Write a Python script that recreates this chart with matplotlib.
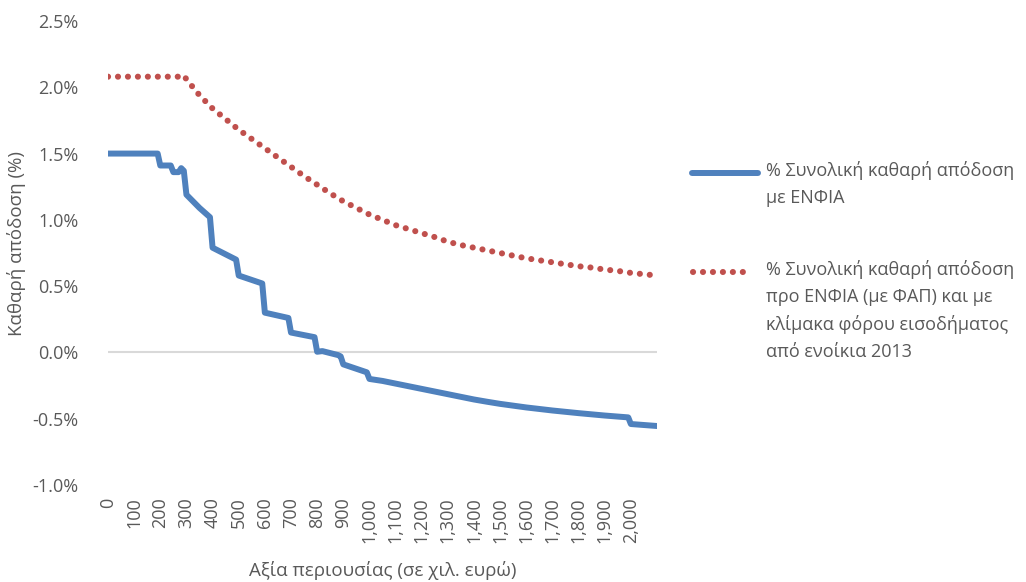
import matplotlib
matplotlib.use("Agg")
import matplotlib.pyplot as plt
from matplotlib.lines import Line2D
from matplotlib.ticker import FuncFormatter, MultipleLocator

# Asset value (thousand euro) and net yield (%)
blue_x = [0, 190, 200, 240, 250, 270, 280, 290, 300, 350, 390, 400, 490, 500,
          590, 600, 690, 700, 790, 800, 820, 840, 880, 890, 900, 990, 1000,
          1050, 1100, 1150, 1200, 1250, 1300, 1350, 1400, 1450, 1500, 1600,
          1700, 1800, 1900, 1990, 2000, 2100]
blue_y = [1.50, 1.50, 1.41, 1.41, 1.36, 1.36, 1.39, 1.37, 1.19, 1.09, 1.02,
          0.79, 0.70, 0.58, 0.52, 0.30, 0.26, 0.15, 0.115, 0.005, 0.01, 0.0,
          -0.02, -0.03, -0.09, -0.15, -0.20, -0.215, -0.235, -0.255, -0.275,
          -0.295, -0.315, -0.335, -0.355, -0.372, -0.388, -0.415, -0.438,
          -0.458, -0.476, -0.49, -0.54, -0.555]

red_x = [0, 100, 200, 280, 290, 300, 350, 400, 450, 500, 550, 600, 650, 700,
         750, 800, 850, 900, 950, 1000, 1050, 1100, 1150, 1200, 1250, 1300,
         1350, 1400, 1450, 1500, 1550, 1600, 1650, 1700, 1750, 1800, 1850,
         1900, 1950, 2000, 2050, 2100]
red_y = [2.08, 2.08, 2.08, 2.08, 2.09, 2.06, 1.94, 1.84, 1.76, 1.68, 1.61,
         1.54, 1.47, 1.40, 1.33, 1.265, 1.20, 1.14, 1.09, 1.04, 1.00, 0.96,
         0.93, 0.90, 0.87, 0.835, 0.81, 0.79, 0.77, 0.75, 0.73, 0.71, 0.695,
         0.68, 0.665, 0.65, 0.64, 0.625, 0.615, 0.60, 0.59, 0.58]

blue_label = "% Συνολική καθαρή απόδοση\nμε ΕΝΦΙΑ"
red_label = ("% Συνολική καθαρή απόδοση\nπρο ΕΝΦΙΑ (με ΦΑΠ) και με\n"
             "κλίμακα φόρου εισοδήματος\nαπό ενοίκια 2013")

BLUE = "#4F81BD"
RED = "#C0504D"
GREY = "#595959"

plt.rcParams["font.family"] = ["Open Sans", "DejaVu Sans"]
plt.rcParams["font.size"] = 13

fig = plt.figure(figsize=(10.26, 5.82), dpi=100)
ax = fig.add_axes([108 / 1026, 97 / 582, 549 / 1026, 464 / 582])

ax.axhline(0, color="#d9d9d9", lw=1.5, zorder=1)
ax.plot(blue_x, blue_y, color=BLUE, lw=4.3, solid_joinstyle="round",
        solid_capstyle="round", zorder=3)
ax.plot(red_x, red_y, color=RED, lw=4.4, linestyle=(0, (0.01, 1.62)),
        dash_capstyle="round", zorder=3)

ax.set_xlim(0, 2100)
ax.set_ylim(-1.0, 2.5)
ax.xaxis.set_major_locator(MultipleLocator(100))
ax.yaxis.set_major_locator(MultipleLocator(0.5))
ax.xaxis.set_major_formatter(FuncFormatter(
    lambda v, p: f"{v:,.0f}" if v <= 2000 else ""))
ax.yaxis.set_major_formatter(FuncFormatter(lambda v, p: f"{v:.1f}%"))
ax.tick_params(axis="x", length=0, pad=9, labelrotation=90,
               labelcolor=GREY, labelsize=13)
ax.tick_params(axis="y", length=0, pad=21, labelcolor=GREY, labelsize=13)
for s in ax.spines.values():
    s.set_visible(False)

fig.text(17 / 1026, 1 - 243 / 582, "Καθαρή απόδοση (%)", rotation=90,
         ha="center", va="center", color=GREY, fontsize=13.5)
fig.text(383 / 1026, 1 - 570 / 582, "Αξία περιουσίας (σε χιλ. ευρώ)",
         ha="center", va="center", color=GREY, fontsize=13.5)

# legend drawn by hand so the sample sits on the first text line
fig.add_artist(Line2D([692 / 1026, 758 / 1026], [1 - 173 / 582] * 2,
                      color=BLUE, lw=4.3, solid_capstyle="round"))
fig.add_artist(Line2D([693 / 1026, 752 / 1026], [1 - 272 / 582] * 2,
                      color=RED, lw=4.4, linestyle=(0, (0.01, 1.62)),
                      dash_capstyle="round"))
fig.text(766 / 1026, 1 - 161 / 582, blue_label, ha="left", va="top",
         color=GREY, fontsize=13, linespacing=1.62)
fig.text(766 / 1026, 1 - 260 / 582, red_label, ha="left", va="top",
         color=GREY, fontsize=13, linespacing=1.62)

fig.savefig("out.png", dpi=100)
